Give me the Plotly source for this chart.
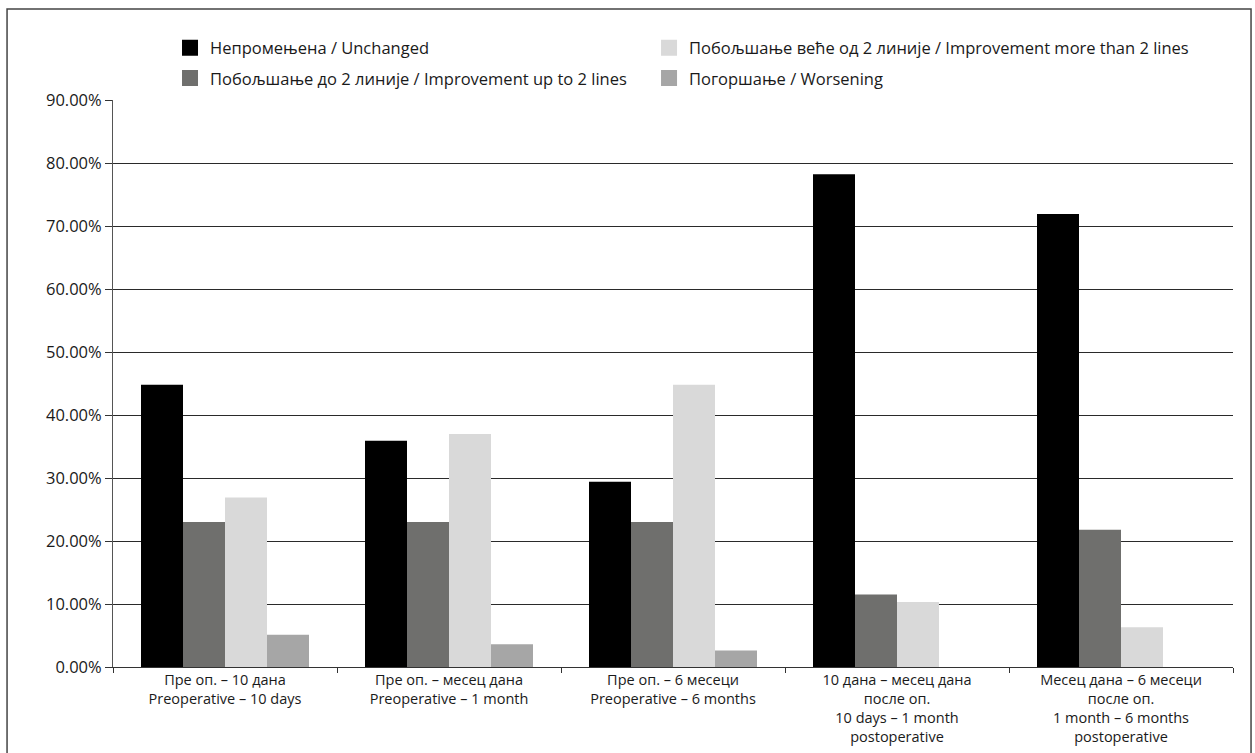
import plotly.graph_objects as go

categories = [
    "Пре оп. – 10 дана<br>Preoperative – 10 days",
    "Пре оп. – месец дана<br>Preoperative – 1 month",
    "Пре оп. – 6 месеци<br>Preoperative – 6 months",
    "10 дана – месец дана<br>после оп.<br>10 days – 1 month<br>postoperative",
    "Месец дана – 6 месеци<br>после оп.<br>1 month – 6 months<br>postoperative",
]
unchanged = [44.8, 35.9, 29.4, 78.2, 71.9]
improve_up_to_2 = [23.0, 23.0, 23.0, 11.5, 21.8]
improve_more_2 = [26.9, 37.0, 44.8, 10.3, 6.3]
worsening = [5.1, 3.6, 2.6, 0.0, 0.0]

series_names = [
    "Непромењена / Unchanged",
    "Побољшање до 2 линије / Improvement up to 2 lines",
    "Побољшање веће од 2 линије / Improvement more than 2 lines",
    "Погоршање / Worsening",
]
series_values = [unchanged, improve_up_to_2, improve_more_2, worsening]
colors = ["#000000", "#6f6f6d", "#d9d9d9", "#a6a6a6"]
legend_ids = ["legend", "legend", "legend2", "legend2"]

FONT = "Open Sans"
TXT = "#1a1a1a"

fig = go.Figure()
for i, (name, vals) in enumerate(zip(series_names, series_values)):
    fig.add_trace(go.Bar(
        x=categories, y=vals, name=name,
        marker=dict(color=colors[i], line=dict(width=0)),
        showlegend=False, legendgroup=f"g{i}",
    ))
# legend entries (larger square swatches)
for i, name in enumerate(series_names):
    fig.add_trace(go.Scatter(
        x=[None], y=[None], mode="markers", name=name,
        marker=dict(symbol="square", size=16, color=colors[i], line=dict(width=0)),
        legend=legend_ids[i], legendgroup=f"g{i}", hoverinfo="skip",
    ))

legend_common = dict(xanchor="left", yanchor="top", orientation="v",
                     tracegroupgap=6, itemsizing="trace",
                     font=dict(family=FONT, size=16.5, color=TXT),
                     bgcolor="rgba(0,0,0,0)")

fig.update_layout(
    width=1255, height=753,
    margin=dict(l=113, r=22, t=100, b=86, autoexpand=False),
    paper_bgcolor="white", plot_bgcolor="white",
    font=dict(family=FONT, size=15, color=TXT),
    barmode="group", bargap=0.25, bargroupgap=0,
    legend=dict(x=0.0509, y=1.1227, **legend_common),
    legend2=dict(x=0.4786, y=1.1227, **legend_common),
    xaxis=dict(showgrid=False, showline=True, linecolor="#333333", linewidth=1,
               ticks="outside", tickson="boundaries", ticklen=5, tickcolor="#333333",
               ticklabelstandoff=0, automargin=False,
               tickfont=dict(family=FONT, size=14.5, color=TXT)),
    yaxis=dict(range=[0, 90], dtick=10, tickformat=".2f", ticksuffix="%",
               showgrid=True, gridcolor="#2a2a2a", gridwidth=1,
               showline=True, linecolor="#555555", linewidth=1,
               ticks="outside", ticklen=7, tickcolor="#333333",
               zeroline=False, automargin=False,
               tickfont=dict(family=FONT, size=16.5, color=TXT)),
    shapes=[dict(type="rect", xref="paper", yref="paper",
                 x0=-0.0946, x1=1.0161, y0=-0.3, y1=1.1605,
                 line=dict(color="#444444", width=1.5), layer="below")],
)

fig.write_html("out.html")
